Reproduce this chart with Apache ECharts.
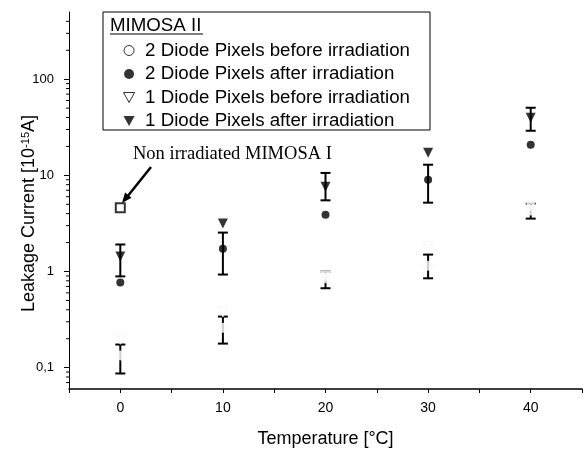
<!DOCTYPE html>
<html>
<head>
<meta charset="utf-8">
<script src="https://cdn.jsdelivr.net/npm/echarts@6/dist/echarts.min.js"></script>
<style>
  html, body { margin: 0; padding: 0; background: #fff; }
  #chart { width: 584px; height: 449px; }
</style>
</head>
<body>
<div id="chart"></div>
<script>
// temperatures (°C)
var temps = [0, 10, 20, 30, 40];

// leakage current [10^-15 A]
var twoDiodeBefore = [0.134, 0.26, 0.85, 1.15, 4.3];
var twoDiodeAfter = [0.77, 1.73, 3.9, 9.0, 20.8];
var oneDiodeBefore = [0.197, 0.38, 0.9, 1.8, 4.8];
var oneDiodeAfter = [1.43, 3.15, 7.6, 17.2, 39.7];

// error bars: low / high
var afterErrLow = [0.89, 0.93, 5.5, 5.2, 29.1];
var afterErrHigh = [1.91, 2.54, 10.6, 12.9, 50.5];
var beforeErrLow = [0.087, 0.178, 0.67, 0.85, 3.55];
var beforeErrHigh = [0.174, 0.34, 1.0, 1.5, 5.1];

// non irradiated MIMOSA I
var mimosa1 = [[0, 4.6]];

// log axis minor tick values
var minorTicks = [0.07, 0.08, 0.09,
  0.2, 0.3, 0.4, 0.5, 0.6, 0.7, 0.8, 0.9,
  2, 3, 4, 5, 6, 7, 8, 9,
  20, 30, 40, 50, 60, 70, 80, 90,
  200, 300, 400];

var font = "'Liberation Sans', Arial, sans-serif";
var names = [
  "2 Diode Pixels before irradiation",
  "2 Diode Pixels after irradiation",
  "1 Diode Pixels before irradiation",
  "1 Diode Pixels after irradiation"
];
var triDown = "path://M0,0 L10,0 L5,9 Z";

function pairs(ys) {
  return temps.map(function (t, i) { return [t, ys[i]]; });
}
function bars(lo, hi) {
  return temps.map(function (t, i) { return [t, lo[i], hi[i]]; });
}

function renderErr(params, api) {
  var x = api.value(0);
  var pLo = api.coord([x, api.value(1)]);
  var pHi = api.coord([x, api.value(2)]);
  var w = 5;
  var st = { stroke: "#000", lineWidth: 2 };
  return {
    type: "group",
    children: [
      { type: "line", shape: { x1: pLo[0], y1: pLo[1], x2: pHi[0], y2: pHi[1] }, style: st },
      { type: "line", shape: { x1: pLo[0] - w, y1: pLo[1], x2: pLo[0] + w, y2: pLo[1] }, style: st },
      { type: "line", shape: { x1: pHi[0] - w, y1: pHi[1], x2: pHi[0] + w, y2: pHi[1] }, style: st }
    ]
  };
}

function renderMinor(params, api) {
  var p = api.coord([api.value(0), api.value(1)]);
  return {
    type: "line",
    shape: { x1: p[0] - 3, y1: p[1], x2: p[0], y2: p[1] },
    style: { stroke: "#000", lineWidth: 1 }
  };
}

var openStyle = { color: "#fff", borderColor: "#f3f3f3", borderWidth: 1 };
var legendOpen = { color: "#fff", borderColor: "#000", borderWidth: 1 };

var chart = echarts.init(document.getElementById("chart"));
chart.setOption({
  animation: false,
  grid: { left: 69, right: 2, top: 12, bottom: 60, outerBoundsMode: "none", containLabel: false },
  legend: {
    orient: "vertical",
    left: 123,
    top: 41,
    padding: 0,
    itemWidth: 14,
    itemHeight: 10,
    itemGap: 4.5,
    textStyle: { fontFamily: font, fontSize: 18.7, color: "#000", lineHeight: 18, padding: [0, 0, 0, 4] },
    data: [
      { name: names[0], itemStyle: legendOpen },
      { name: names[1] },
      { name: names[2], icon: triDown, itemStyle: legendOpen },
      { name: names[3], icon: triDown }
    ]
  },
  xAxis: {
    type: "value",
    min: -5,
    max: 45,
    interval: 5,
    name: "Temperature [°C]",
    nameLocation: "middle",
    nameGap: 41,
    nameTextStyle: { fontFamily: font, fontSize: 18, color: "#000" },
    axisLine: { onZero: false, lineStyle: { color: "#000", width: 1.5 } },
    axisTick: { length: 4, lineStyle: { color: "#000" } },
    axisLabel: {
      margin: 12,
      fontFamily: font,
      fontSize: 14,
      color: "#000",
      formatter: function (v) {
        return (v >= 0 && v <= 40 && v % 10 === 0) ? String(v) : "";
      }
    },
    splitLine: { show: false }
  },
  yAxis: {
    type: "log",
    logBase: 10,
    min: 0.06,
    max: 500,
    name: "Leakage Current [10{sup|-15}A]",
    nameLocation: "middle",
    nameMoveOverlap: false,
    nameGap: 30,
    nameTextStyle: {
      fontFamily: font, fontSize: 18, color: "#000",
      padding: [0, 26, 0, 0],
      rich: { sup: { fontFamily: font, fontSize: 11, color: "#000", verticalAlign: "top", padding: [0, 0, 8, 0] } }
    },
    axisLine: { onZero: false, lineStyle: { color: "#000", width: 1 } },
    axisTick: { length: 5, lineStyle: { color: "#000" } },
    axisLabel: {
      margin: 15,
      fontFamily: font,
      fontSize: 13,
      color: "#000",
      showMinLabel: false,
      showMaxLabel: false,
      formatter: function (v) { return String(+v.toPrecision(6)).replace(".", ","); }
    },
    splitLine: { show: false }
  },
  series: [
    {
      type: "custom",
      name: "minor",
      renderItem: renderMinor,
      data: minorTicks.map(function (v) { return [-5, v]; }),
      z: 1,
      silent: true
    },
    {
      type: "custom",
      name: "errAfter",
      renderItem: renderErr,
      data: bars(afterErrLow, afterErrHigh),
      z: 2
    },
    {
      type: "custom",
      name: "errBefore",
      renderItem: renderErr,
      data: bars(beforeErrLow, beforeErrHigh),
      z: 2
    },
    {
      type: "scatter", name: names[0], data: pairs(twoDiodeBefore),
      symbol: "circle", symbolSize: 9, itemStyle: openStyle, z: 3
    },
    {
      type: "scatter", name: names[1], data: pairs(twoDiodeAfter),
      symbol: "circle", symbolSize: 8, itemStyle: { color: "#000" }, z: 4
    },
    {
      type: "scatter", name: names[2], data: pairs(oneDiodeBefore),
      symbol: "triangle", symbolRotate: 180, symbolSize: 10, itemStyle: openStyle, z: 3
    },
    {
      type: "scatter", name: names[3], data: pairs(oneDiodeAfter),
      symbol: "triangle", symbolRotate: 180, symbolSize: 10, itemStyle: { color: "#000" }, z: 4
    },
    {
      type: "scatter", name: "Non irradiated MIMOSA I", data: mimosa1,
      symbol: "rect", symbolSize: 9,
      itemStyle: { color: "#fff", borderColor: "#000", borderWidth: 2 }, z: 4
    }
  ],
  graphic: [
    {
      type: "rect",
      shape: { x: 103, y: 12, width: 327, height: 118 },
      style: { fill: "#fff", stroke: "#000", lineWidth: 1 },
      z: 0
    },
    {
      type: "text",
      x: 110, y: 26,
      style: { text: "MIMOSA II", fontFamily: font, fontSize: 18.7, fill: "#000", verticalAlign: "middle" },
      z: 5
    },
    {
      type: "line",
      shape: { x1: 110, y1: 34, x2: 203, y2: 34 },
      style: { stroke: "#000", lineWidth: 1 },
      z: 5
    },
    {
      type: "text",
      x: 133, y: 154,
      style: { text: "Non irradiated MIMOSA I", fontFamily: "'Liberation Serif', 'Times New Roman', serif", fontSize: 18.5, fill: "#000", verticalAlign: "middle" },
      z: 5
    },
    {
      type: "line",
      shape: { x1: 151, y1: 167, x2: 127, y2: 197 },
      style: { stroke: "#000", lineWidth: 2.5 },
      z: 5
    },
    {
      type: "polygon",
      shape: { points: [[122, 203], [131.5, 197.8], [125, 192.6]] },
      style: { fill: "#000" },
      z: 5
    }
  ]
});
</script>
</body>
</html>
